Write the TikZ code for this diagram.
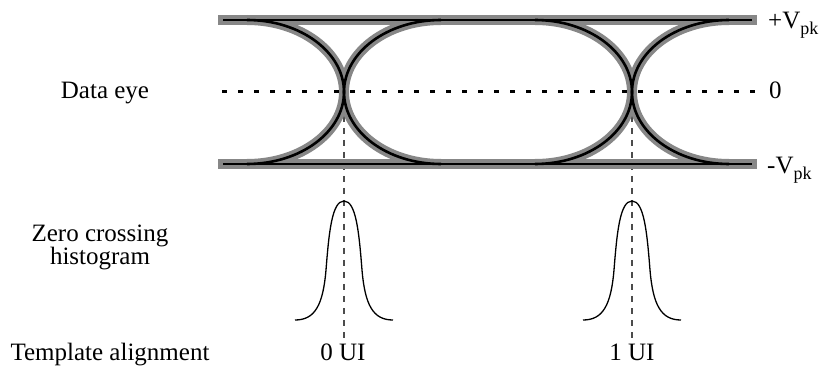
\documentclass[tikz,border=0pt]{standalone}
\usepackage{fontspec}
\setmainfont{Liberation Serif}
\definecolor{halo}{gray}{0.53}
\definecolor{guide}{gray}{0.3}
\begin{document}
\begin{tikzpicture}[x=1pt,y=-1pt,
  lbl/.style={font=\fontsize{25}{22}\selectfont, inner sep=0pt},
  railhalo/.style={line width=10pt, halo},
  railcore/.style={line width=1.2pt, black},
  curvehalo/.style={line width=10pt, halo},
  curvecore/.style={line width=2.6pt, black},
  zeroline/.style={line width=3pt, black, dash pattern=on 5pt off 11pt},
  guideline/.style={line width=2pt, guide, dash pattern=on 6pt off 6pt},
  histo/.style={line width=1.3pt, black}]
\useasboundingbox (0,0) rectangle (825,366);

% coordinates
\coordinate (c0) at (344,92);
\coordinate (c1) at (632,92);
\coordinate (g0) at (344,338);
\coordinate (g1) at (632,338);

% guide lines
\draw[guideline] (c0) -- (g0);
\draw[guideline] (c1) -- (g1);

% rails halo
\draw[railhalo] (218,20) -- (757,20);
\draw[railhalo] (218,164) -- (757,164);

% curve halos
\foreach \cx in {247,535} {
  \draw[curvehalo] (\cx,20) arc[start angle=90, end angle=-90, x radius=97pt, y radius=72pt];
}
\foreach \cx in {441,729} {
  \draw[curvehalo] (\cx,20) arc[start angle=90, end angle=270, x radius=97pt, y radius=72pt];
}
% curve cores
\foreach \cx in {247,535} {
  \draw[curvecore] (\cx,20) arc[start angle=90, end angle=-90, x radius=97pt, y radius=72pt];
}
\foreach \cx in {441,729} {
  \draw[curvecore] (\cx,20) arc[start angle=90, end angle=270, x radius=97pt, y radius=72pt];
}

% rail cores
\draw[railcore] (223,20) -- (752,20);
\draw[railcore] (223,164) -- (752,164);

% zero line
\draw[zeroline] (222,92) -- (757,92);

% histograms
\foreach \hx in {344,632} {
  \draw[histo] (\hx-49,320) .. controls (\hx-29,320) and (\hx-21,305) .. (\hx-18,270)
    .. controls (\hx-15,232) and (\hx-12,201) .. (\hx,201)
    .. controls (\hx+12,201) and (\hx+15,232) .. (\hx+18,270)
    .. controls (\hx+21,305) and (\hx+29,320) .. (\hx+49,320);
}

% labels
\node[lbl, anchor=base] (dataeye) at (105,99) {Data eye};
\node[lbl, anchor=base, align=center] (zch) at (100,265) {Zero crossing\\histogram};
\node[lbl, anchor=base] (tpl) at (110,360) {Template alignment};
\node[lbl, anchor=base] (ui0) at (343,360) {0 UI};
\node[lbl, anchor=base] (ui1) at (632,360) {1 UI};
\node[lbl, anchor=base west] (vpos) at (768,29) {+V\raisebox{-6pt}{\fontsize{18}{18}\selectfont pk}};
\node[lbl, anchor=base west] (vzero) at (769,99) {0};
\node[lbl, anchor=base west] (vneg) at (767,174) {-V\raisebox{-6pt}{\fontsize{18}{18}\selectfont pk}};
\end{tikzpicture}
\end{document}
